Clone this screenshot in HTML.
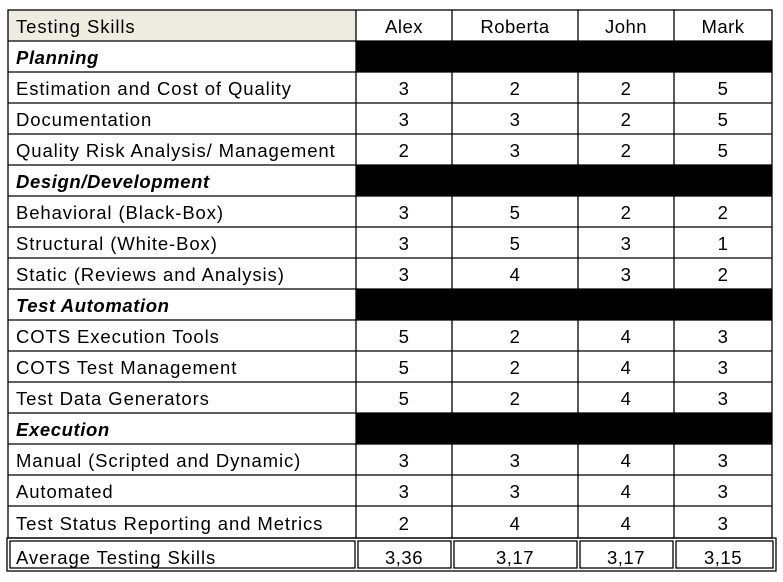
<!DOCTYPE html>
<html><head><meta charset="utf-8"><style>
html,body{margin:0;padding:0;background:#fff;}
svg{display:block;}
text{font-family:"Liberation Sans",sans-serif;font-size:18.5px;letter-spacing:0.9px;fill:#000;}
.c{text-anchor:middle;letter-spacing:0.5px;}
.b{font-weight:bold;font-style:italic;letter-spacing:0.6px;}
</style></head><body>
<svg width="783" height="582" viewBox="0 0 783 582" xmlns="http://www.w3.org/2000/svg">
<rect x="8" y="10" width="348" height="31" fill="#eeece1"/>
<rect x="356" y="41" width="416" height="31" fill="#000"/>
<rect x="356" y="165" width="416" height="31" fill="#000"/>
<rect x="356" y="289" width="416" height="31" fill="#000"/>
<rect x="356" y="413" width="416" height="31" fill="#000"/>
<g stroke="#000" stroke-width="1.3" fill="none">
<rect x="8" y="10" width="764" height="528"/>
<line x1="356" y1="10" x2="356" y2="538"/>
<line x1="452" y1="10" x2="452" y2="538"/>
<line x1="578" y1="10" x2="578" y2="538"/>
<line x1="674" y1="10" x2="674" y2="538"/>
<line x1="8" y1="41" x2="772" y2="41"/>
<line x1="8" y1="72" x2="772" y2="72"/>
<line x1="8" y1="103" x2="772" y2="103"/>
<line x1="8" y1="134" x2="772" y2="134"/>
<line x1="8" y1="165" x2="772" y2="165"/>
<line x1="8" y1="196" x2="772" y2="196"/>
<line x1="8" y1="227" x2="772" y2="227"/>
<line x1="8" y1="258" x2="772" y2="258"/>
<line x1="8" y1="289" x2="772" y2="289"/>
<line x1="8" y1="320" x2="772" y2="320"/>
<line x1="8" y1="351" x2="772" y2="351"/>
<line x1="8" y1="382" x2="772" y2="382"/>
<line x1="8" y1="413" x2="772" y2="413"/>
<line x1="8" y1="444" x2="772" y2="444"/>
<line x1="8" y1="475" x2="772" y2="475"/>
<line x1="8" y1="506" x2="772" y2="506"/>
<rect x="7" y="538" width="769" height="33"/>
<rect x="10" y="541" width="345" height="27"/>
<rect x="358" y="541" width="93" height="27"/>
<rect x="454" y="541" width="123" height="27"/>
<rect x="580" y="541" width="93" height="27"/>
<rect x="676" y="541" width="97" height="27"/>
</g>
<text x="16" y="33">Testing Skills</text>
<text class="c" x="404" y="33">Alex</text>
<text class="c" x="515" y="33">Roberta</text>
<text class="c" x="626" y="33">John</text>
<text class="c" x="723" y="33">Mark</text>

<text class="b" x="16" y="64">Planning</text>
<text x="16" y="95">Estimation and Cost of Quality</text><text class="c" x="404" y="95">3</text><text class="c" x="515" y="95">2</text><text class="c" x="626" y="95">2</text><text class="c" x="723" y="95">5</text>
<text x="16" y="126">Documentation</text><text class="c" x="404" y="126">3</text><text class="c" x="515" y="126">3</text><text class="c" x="626" y="126">2</text><text class="c" x="723" y="126">5</text>
<text x="16" y="157">Quality Risk Analysis/ Management</text><text class="c" x="404" y="157">2</text><text class="c" x="515" y="157">3</text><text class="c" x="626" y="157">2</text><text class="c" x="723" y="157">5</text>
<text class="b" x="16" y="188">Design/Development</text>
<text x="16" y="219">Behavioral (Black-Box)</text><text class="c" x="404" y="219">3</text><text class="c" x="515" y="219">5</text><text class="c" x="626" y="219">2</text><text class="c" x="723" y="219">2</text>
<text x="16" y="250">Structural (White-Box)</text><text class="c" x="404" y="250">3</text><text class="c" x="515" y="250">5</text><text class="c" x="626" y="250">3</text><text class="c" x="723" y="250">1</text>
<text x="16" y="281">Static (Reviews and Analysis)</text><text class="c" x="404" y="281">3</text><text class="c" x="515" y="281">4</text><text class="c" x="626" y="281">3</text><text class="c" x="723" y="281">2</text>
<text class="b" x="16" y="312">Test Automation</text>
<text x="16" y="343">COTS Execution Tools</text><text class="c" x="404" y="343">5</text><text class="c" x="515" y="343">2</text><text class="c" x="626" y="343">4</text><text class="c" x="723" y="343">3</text>
<text x="16" y="374">COTS Test Management</text><text class="c" x="404" y="374">5</text><text class="c" x="515" y="374">2</text><text class="c" x="626" y="374">4</text><text class="c" x="723" y="374">3</text>
<text x="16" y="405">Test Data Generators</text><text class="c" x="404" y="405">5</text><text class="c" x="515" y="405">2</text><text class="c" x="626" y="405">4</text><text class="c" x="723" y="405">3</text>
<text class="b" x="16" y="436">Execution</text>
<text x="16" y="467">Manual (Scripted and Dynamic)</text><text class="c" x="404" y="467">3</text><text class="c" x="515" y="467">3</text><text class="c" x="626" y="467">4</text><text class="c" x="723" y="467">3</text>
<text x="16" y="498">Automated</text><text class="c" x="404" y="498">3</text><text class="c" x="515" y="498">3</text><text class="c" x="626" y="498">4</text><text class="c" x="723" y="498">3</text>
<text x="16" y="530">Test Status Reporting and Metrics</text><text class="c" x="404" y="530">2</text><text class="c" x="515" y="530">4</text><text class="c" x="626" y="530">4</text><text class="c" x="723" y="530">3</text>
<text x="16" y="564">Average Testing Skills</text><text class="c" x="404" y="564">3,36</text><text class="c" x="515" y="564">3,17</text><text class="c" x="626" y="564">3,17</text><text class="c" x="723" y="564">3,15</text>
</svg>
</body></html>
